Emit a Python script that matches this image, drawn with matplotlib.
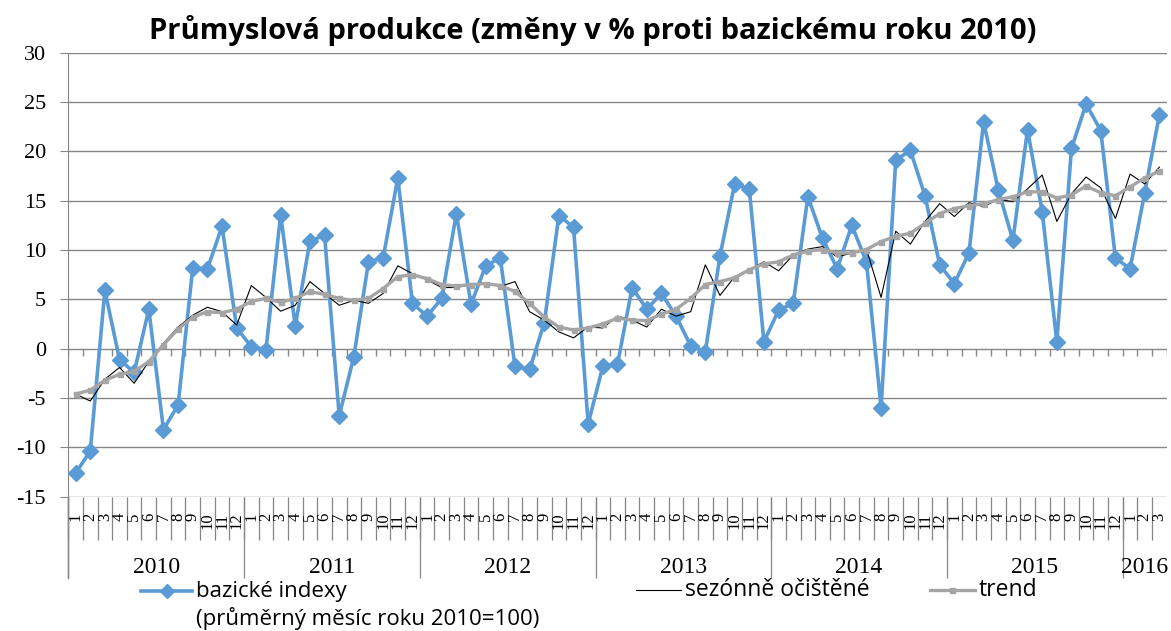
import matplotlib
matplotlib.use("Agg")
import matplotlib.pyplot as plt
from matplotlib.lines import Line2D
import matplotlib.transforms as mtransforms

# ---------------- data ----------------
years = ['2010', '2011', '2012', '2013', '2014', '2015', '2016']
months_per_year = [12, 12, 12, 12, 12, 12, 3]

bazicke = [-12.6, -10.4, 5.9, -1.1, -2.4, 4.0, -8.2, -5.7, 8.2, 8.1, 12.4, 2.1,
           0.2, -0.1, 13.6, 2.3, 10.9, 11.5, -6.8, -0.8, 8.8, 9.2, 17.3, 4.6,
           3.3, 5.1, 13.7, 4.5, 8.4, 9.2, -1.8, -2.1, 2.6, 13.5, 12.3, -7.6,
           -1.8, -1.6, 6.2, 4.0, 5.6, 3.3, 0.3, -0.3, 9.4, 16.7, 16.2, 0.7,
           3.9, 4.6, 15.4, 11.2, 8.1, 12.5, 8.8, -6.0, 19.1, 20.1, 15.5, 8.5,
           6.6, 9.7, 23.0, 16.1, 11.0, 22.2, 13.9, 0.7, 20.3, 24.8, 22.1, 9.2,
           8.1, 15.8, 23.7]

sezonne = [-4.6, -5.3, -3.1, -1.9, -3.5, -1.3, 0.55, 2.2, 3.4, 4.2, 3.75, 2.4,
           6.4, 5.2, 3.8, 4.4, 6.8, 5.6, 4.4, 4.9, 4.6, 5.6, 8.4, 7.6,
           7.0, 6.2, 6.2, 6.5, 6.7, 6.3, 6.8, 3.75, 2.9, 1.7, 1.1, 2.2,
           2.1, 3.3, 2.9, 2.2, 4.0, 3.3, 3.75, 8.5, 5.4, 7.3, 8.0, 8.8,
           7.9, 9.5, 10.1, 10.35, 9.3, 9.7, 10.1, 5.2, 11.9, 10.6, 12.9, 14.7,
           13.4, 14.8, 14.4, 15.15, 14.9, 16.2, 17.6, 12.9, 15.7, 17.4, 16.3, 13.2,
           17.7, 16.7, 18.4]

trend = [-4.6, -4.2, -3.2, -2.6, -2.3, -1.3, 0.4, 2.0, 3.2, 3.75, 3.65, 4.0,
         4.8, 5.1, 4.7, 5.1, 5.8, 5.5, 5.1, 4.9, 5.1, 6.1, 7.3, 7.5,
         7.1, 6.5, 6.35, 6.5, 6.6, 6.4, 5.8, 4.6, 3.2, 2.2, 1.9, 2.1,
         2.5, 3.1, 2.9, 2.85, 3.5, 4.0, 5.1, 6.5, 6.8, 7.2, 8.0, 8.6,
         8.8, 9.5, 9.9, 10.05, 9.7, 9.7, 10.05, 10.85, 11.4, 11.7, 12.7, 13.7,
         14.2, 14.5, 14.7, 15.1, 15.4, 15.9, 15.9, 15.25, 15.6, 16.5, 15.8, 15.5,
         16.4, 17.3, 18.0]

yticks = [-15, -10, -5, 0, 5, 10, 15, 20, 25, 30]

title = 'Průmyslová produkce (změny v % proti bazickému roku 2010)'
lab_baz = 'bazické indexy'
lab_baz2 = '(průměrný měsíc roku 2010=100)'
lab_sa = 'sezónně očištěné'
lab_tr = 'trend'

# ---------------- derived ----------------
month_labels = []
for n in months_per_year:
    month_labels += [str(m) for m in range(1, n + 1)]
x = list(range(len(month_labels)))
N = len(x)

BLUE = '#5B9BD5'
GRAY = '#A5A5A5'
GRID = '#868686'
SERIF = ['Liberation Serif', 'DejaVu Serif']
SANS = ['Open Sans', 'DejaVu Sans']

fig = plt.figure(figsize=(11.71, 6.31), dpi=100)
ax = fig.add_axes([0.0583, 0.2128, 0.9963 - 0.0583, 0.9165 - 0.2128])

ax.plot(x, bazicke, color=BLUE, lw=2.6, marker='D', ms=8, mfc=BLUE, mec=BLUE,
        zorder=3, clip_on=False)
ax.plot(x, sezonne, color='black', lw=0.8, zorder=4, clip_on=False)
ax.plot(x, trend, color=GRAY, lw=2.4, marker='s', ms=3.6, mfc=GRAY, mec=GRAY,
        zorder=5, clip_on=False)

ax.set_xlim(-0.5, N - 0.5)
ax.set_ylim(min(yticks), max(yticks))
ax.set_yticks(yticks)
ax.set_yticklabels([str(v) for v in yticks], fontfamily=SERIF, fontsize=16)
ax.yaxis.grid(True, color=GRID, lw=1.0)
ax.set_axisbelow(True)
ax.tick_params(axis='y', direction='out', length=6, color=GRID, pad=10)
ax.set_xticks([])
for s in ['top', 'right', 'bottom']:
    ax.spines[s].set_visible(False)
ax.spines['left'].set_color(GRID)
ax.spines['left'].set_bounds(min(yticks), max(yticks))

# tick marks on the zero line
bounds = [i - 0.5 for i in range(N + 1)]
ax.vlines(bounds, -0.75, 0, color=GRID, lw=1.0, zorder=2)

# category label area
trans = mtransforms.blended_transform_factory(ax.transData, ax.transAxes)
ax.vlines(bounds[:-1], -0.097, 0, color=GRID, lw=0.9, transform=trans, clip_on=False)
ybounds = [-0.5]
acc = 0
for n in months_per_year:
    acc += n
    ybounds.append(acc - 0.5)
ax.vlines(ybounds[:-1], -0.182, 0, color=GRID, lw=0.9, transform=trans, clip_on=False)
ax.plot([-0.5, -0.5], [-0.182, 0], color=GRID, lw=1.0, transform=trans, clip_on=False)

for xi, lab in zip(x, month_labels):
    ax.text(xi, -0.036, lab, rotation=90, ha='center', va='top', fontsize=12,
            fontfamily=SERIF, transform=trans, clip_on=False)

for i, yr in enumerate(years):
    cx = (ybounds[i] + ybounds[i + 1]) / 2
    ax.text(cx, -0.160, yr, ha='center', va='center', fontsize=17,
            fontfamily=SERIF, transform=trans, clip_on=False)

# title
fig.text(0.506, 0.951, title, ha='center', va='center', fontsize=21,
         fontweight='bold', fontfamily=SANS)

# legend (manual)
W, H = 1171.0, 631.0
def fx(px):
    return px / W
def fy(py):
    return 1 - py / H

ly1 = 591
fig.add_artist(Line2D([fx(141), fx(192)], [fy(ly1), fy(ly1)], color=BLUE, lw=2.6,
                      transform=fig.transFigure))
fig.add_artist(Line2D([fx(167)], [fy(ly1)], color=BLUE, marker='D', ms=7,
                      transform=fig.transFigure))
fig.text(fx(196), fy(ly1), lab_baz, ha='left', va='center', fontsize=16, fontfamily=SANS)
fig.text(fx(196), fy(619), lab_baz2, ha='left', va='center', fontsize=16, fontfamily=SANS)

ly2 = 590
fig.add_artist(Line2D([fx(636), fx(681)], [fy(ly2), fy(ly2)], color='black', lw=0.8,
                      transform=fig.transFigure))
fig.text(fx(685), fy(ly2), lab_sa, ha='left', va='center', fontsize=16.5, fontfamily=SANS)

fig.add_artist(Line2D([fx(930), fx(975)], [fy(ly2), fy(ly2)], color=GRAY, lw=2.4,
                      transform=fig.transFigure))
fig.add_artist(Line2D([fx(952)], [fy(ly2)], color=GRAY, marker='s', ms=3.6,
                      transform=fig.transFigure))
fig.text(fx(979), fy(ly2), lab_tr, ha='left', va='center', fontsize=16.5, fontfamily=SANS)

fig.savefig('out.png', dpi=100)
